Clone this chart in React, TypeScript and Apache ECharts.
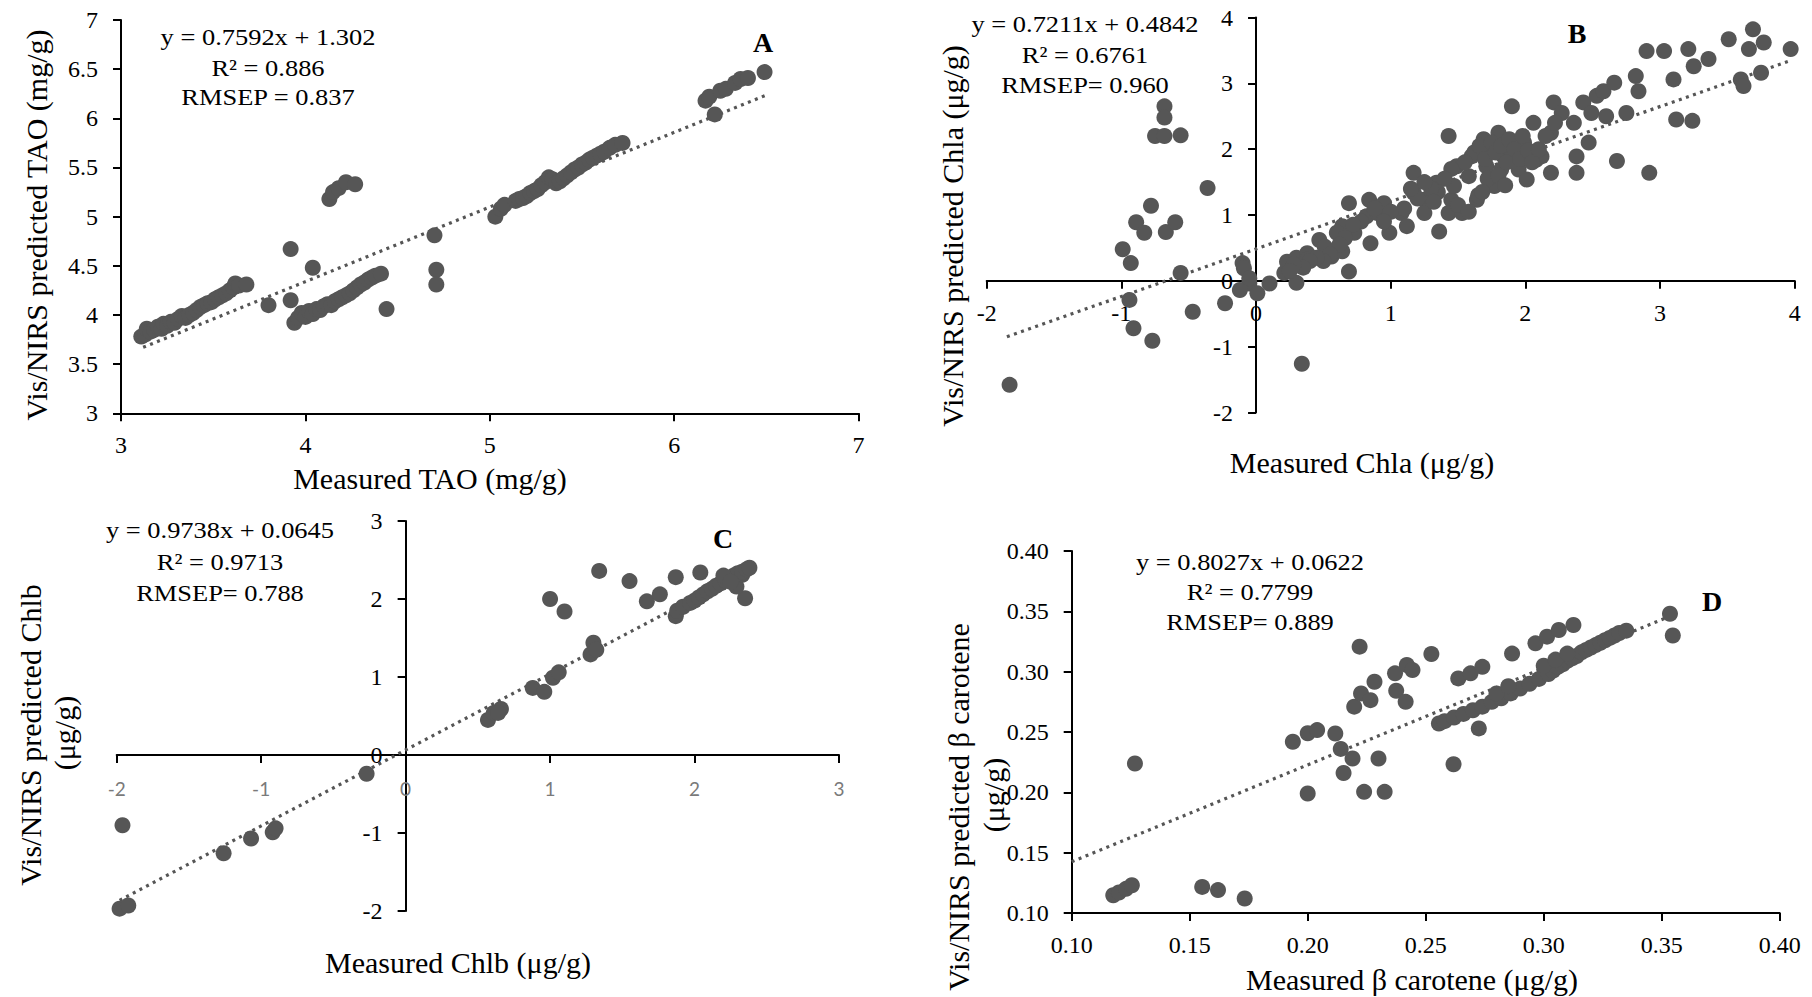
import React, { useEffect, useRef } from "react";
import * as echarts from "echarts";

// ---------- Data (measured, predicted) ----------
const taoPoints: number[][] = [
  [3.11, 3.78], [3.13, 3.8], [3.14, 3.86], [3.16, 3.83], [3.18, 3.85], [3.2, 3.88], [3.22, 3.86], [3.23, 3.91],
  [3.25, 3.89], [3.27, 3.93], [3.29, 3.92], [3.31, 3.96], [3.33, 3.99], [3.35, 3.97], [3.37, 4.0], [3.39, 4.02],
  [3.41, 4.05], [3.43, 4.08], [3.45, 4.1], [3.47, 4.12], [3.49, 4.13], [3.51, 4.16], [3.53, 4.18], [3.55, 4.2],
  [3.57, 4.22], [3.59, 4.25], [3.61, 4.28], [3.62, 4.32], [3.64, 4.3], [3.68, 4.31],
  [3.8, 4.1], [3.92, 4.67], [3.92, 4.15], [4.04, 4.48], [4.13, 5.18], [4.15, 5.25], [4.18, 5.29], [4.22, 5.35],
  [4.27, 5.33], [4.44, 4.06], [4.7, 4.81], [4.71, 4.46], [4.71, 4.31],
  [3.94, 3.92], [3.96, 3.97], [3.98, 4.02], [4.0, 3.98], [4.02, 4.04], [4.04, 4.01], [4.06, 4.06], [4.08, 4.05],
  [4.1, 4.09], [4.12, 4.11], [4.14, 4.1], [4.16, 4.14], [4.18, 4.16], [4.2, 4.18], [4.22, 4.2], [4.24, 4.22],
  [4.26, 4.25], [4.28, 4.28], [4.3, 4.31], [4.32, 4.33], [4.34, 4.36], [4.36, 4.38], [4.38, 4.4], [4.41, 4.42],
  [5.03, 5.0], [5.06, 5.08], [5.08, 5.12], [5.14, 5.16], [5.16, 5.18], [5.18, 5.19], [5.2, 5.21], [5.22, 5.24],
  [5.24, 5.26], [5.26, 5.28], [5.28, 5.32], [5.3, 5.35], [5.32, 5.4], [5.34, 5.38], [5.36, 5.34], [5.38, 5.36],
  [5.4, 5.39], [5.42, 5.42], [5.44, 5.45], [5.46, 5.48], [5.48, 5.5], [5.5, 5.53], [5.52, 5.55], [5.54, 5.58],
  [5.56, 5.6], [5.58, 5.62], [5.6, 5.64], [5.62, 5.66], [5.65, 5.7], [5.68, 5.73], [5.72, 5.75],
  [6.17, 6.18], [6.19, 6.22], [6.22, 6.04], [6.25, 6.28], [6.28, 6.3], [6.33, 6.36], [6.36, 6.4], [6.4, 6.41], [6.49, 6.47],
];

const chlaPoints: number[][] = [
  [-0.68, 2.65], [-0.68, 2.48], [-0.75, 2.2], [-0.68, 2.2], [-0.56, 2.21], [-0.36, 1.41], [-0.78, 1.14], [-0.89, 0.89],
  [-0.83, 0.73], [-0.67, 0.74], [-0.6, 0.89], [-0.99, 0.48], [-0.93, 0.27], [-0.56, 0.12], [-0.94, -0.29], [-0.91, -0.72],
  [-0.77, -0.91], [-0.47, -0.47], [-0.23, -0.34], [-1.83, -1.58], [0.34, -1.26],
  [-0.1, 0.27], [-0.09, 0.19], [-0.05, -0.04], [-0.12, -0.14], [0.01, -0.19], [-0.05, 0.04], [0.1, -0.04], [0.21, 0.12],
  [0.3, -0.03], [0.23, 0.29], [0.3, 0.35], [0.38, 0.42], [0.47, 0.62], [0.56, 0.37], [0.64, 0.45], [0.69, 0.14],
  [0.69, 1.18], [0.64, 0.83], [0.6, 0.73], [0.51, 0.52], [0.38, 0.32], [0.73, 0.73], [0.82, 0.98], [0.84, 1.23],
  [0.85, 0.57], [0.9, 1.03], [0.99, 0.73], [0.95, 1.18], [1.08, 1.03], [1.12, 0.83], [1.17, 1.34], [1.17, 1.64],
  [1.25, 1.23], [1.25, 1.03], [1.34, 1.49], [1.36, 0.75], [1.43, 2.2], [1.45, 1.23], [1.43, 1.03], [1.49, 1.74],
  [1.47, 1.44], [1.53, 1.03], [1.58, 1.59], [1.6, 1.89], [1.64, 1.23], [1.69, 2.15], [1.71, 1.74], [1.73, 2.0],
  [1.77, 1.44], [1.8, 2.25], [1.82, 1.69], [1.84, 1.89], [1.86, 2.1], [1.9, 1.94], [1.9, 2.65], [1.95, 1.69],
  [1.99, 2.1], [2.01, 1.54], [2.06, 2.4], [2.08, 1.84], [2.12, 1.89], [2.19, 2.25], [2.21, 2.71], [2.19, 1.64],
  [2.27, 2.55], [2.36, 2.4], [2.38, 1.89], [2.38, 1.64], [2.43, 2.71], [2.47, 2.1], [2.49, 2.55], [2.53, 2.81],
  [2.58, 2.88], [2.6, 2.5], [2.66, 3.01], [2.68, 1.82], [2.75, 2.55], [2.82, 3.11], [2.84, 2.88], [2.9, 3.49],
  [2.92, 1.64], [3.03, 3.49], [3.1, 3.06], [3.12, 2.45], [3.21, 3.52], [3.25, 3.26], [3.24, 2.43], [3.36, 3.37],
  [3.51, 3.67], [3.6, 3.06], [3.62, 2.96], [3.66, 3.52], [3.69, 3.82], [3.75, 3.16], [3.77, 3.62], [3.97, 3.52],
  [1.62, 1.95], [1.66, 2.05], [1.7, 1.85], [1.75, 2.1], [1.78, 1.95], [1.82, 2.05], [1.86, 1.8], [1.88, 2.15],
  [1.92, 2.0], [1.96, 1.85], [1.98, 2.2], [2.02, 1.98], [1.72, 1.55], [1.8, 1.6], [1.55, 1.8], [1.45, 1.7],
  [1.4, 1.55], [1.35, 1.35], [1.3, 1.4], [1.2, 1.25], [1.1, 1.1], [1.0, 1.05], [0.95, 0.9], [0.88, 1.1],
  [0.78, 0.9], [0.72, 0.85], [0.66, 0.65], [0.62, 0.55], [0.55, 0.4], [0.5, 0.3], [0.45, 0.35], [0.4, 0.3],
  [0.35, 0.2], [0.28, 0.25], [0.25, 0.15], [1.5, 1.15], [1.58, 1.05], [1.65, 1.3], [1.68, 1.35], [1.85, 1.45],
  [2.05, 1.8], [2.1, 2.0], [2.15, 2.2], [2.22, 2.4], [1.25, 1.5], [1.15, 1.4], [1.32, 1.2],
];

const chlbPoints: number[][] = [
  [-1.98, -1.97], [-1.92, -1.93], [-1.96, -0.9], [-1.26, -1.26], [-1.07, -1.07], [-0.92, -0.99], [-0.9, -0.94],
  [-0.27, -0.24], [0.57, 0.45], [0.61, 0.54], [0.66, 0.59], [0.64, 0.54], [0.88, 0.86], [0.96, 0.81], [1.02, 0.99],
  [1.06, 1.06], [1.0, 2.0], [1.1, 1.84], [1.28, 1.29], [1.3, 1.44], [1.32, 1.35], [1.34, 2.36], [1.55, 2.23],
  [1.67, 1.97], [1.76, 2.06], [1.87, 2.28], [1.87, 1.78], [2.04, 2.34], [2.35, 2.01], [2.29, 2.16], [2.33, 2.31],
  [1.88, 1.85], [1.92, 1.9], [1.97, 1.95], [2.0, 1.98], [2.03, 2.02], [2.06, 2.06], [2.09, 2.1], [2.12, 2.13],
  [2.15, 2.17], [2.18, 2.2], [2.21, 2.24], [2.24, 2.27], [2.27, 2.3], [2.3, 2.33], [2.33, 2.35], [2.36, 2.38],
  [2.38, 2.4], [2.2, 2.3], [2.25, 2.22],
];

const carotenePoints: number[][] = [
  [0.1176, 0.1147], [0.12, 0.117], [0.123, 0.12], [0.1255, 0.123], [0.1268, 0.2239], [0.1553, 0.1216], [0.162, 0.119],
  [0.1733, 0.112], [0.1937, 0.2419], [0.2, 0.249], [0.204, 0.2516], [0.2, 0.199], [0.2117, 0.2488], [0.214, 0.236],
  [0.2152, 0.216], [0.219, 0.228], [0.2197, 0.271], [0.222, 0.3207], [0.2226, 0.282], [0.2239, 0.2004], [0.2266, 0.2764],
  [0.2283, 0.2916], [0.23, 0.228], [0.2326, 0.2004], [0.237, 0.2986], [0.2375, 0.2842], [0.2415, 0.275], [0.242, 0.3055],
  [0.2444, 0.3013], [0.2524, 0.3146], [0.2618, 0.2233], [0.2556, 0.257], [0.2638, 0.2944], [0.269, 0.2986], [0.274, 0.304],
  [0.2725, 0.253], [0.2866, 0.315], [0.2965, 0.3235], [0.3014, 0.329], [0.3064, 0.3345], [0.3126, 0.3387], [0.3535, 0.348],
  [0.3547, 0.33],
  [0.258, 0.259], [0.262, 0.262], [0.266, 0.265], [0.27, 0.268], [0.274, 0.271], [0.278, 0.275], [0.282, 0.278],
  [0.286, 0.282], [0.29, 0.286], [0.294, 0.29], [0.298, 0.294], [0.302, 0.298], [0.304, 0.301], [0.306, 0.304],
  [0.308, 0.306], [0.31, 0.309], [0.312, 0.311], [0.314, 0.313], [0.316, 0.316], [0.318, 0.318], [0.32, 0.32],
  [0.322, 0.322], [0.324, 0.324], [0.326, 0.326], [0.328, 0.328], [0.33, 0.33], [0.332, 0.332], [0.335, 0.334],
  [0.3, 0.305], [0.305, 0.31], [0.31, 0.315], [0.28, 0.282], [0.285, 0.288],
];

// Fitted regression lines as printed on each panel: [slope, intercept, xFrom, xTo]
const taoFit = [0.7592, 1.302, 3.12, 6.5];
const chlaFit = [0.7211, 0.4842, -1.85, 3.97];
const chlbFit = [0.9738, 0.0645, -1.98, 2.38];
const caroteneFit = [0.8027, 0.0622, 0.1, 0.355];

// Equation / statistics labels
const taoStats = ["y = 0.7592x + 1.302", "R² = 0.886", "RMSEP = 0.837"];
const chlaStats = ["y = 0.7211x + 0.4842", "R² = 0.6761", "RMSEP= 0.960"];
const chlbStats = ["y = 0.9738x + 0.0645", "R² = 0.9713", "RMSEP= 0.788"];
const caroteneStats = ["y = 0.8027x + 0.0622", "R² = 0.7799", "RMSEP= 0.889"];

// Axis ranges
const taoRange = [3, 7];
const taoYInterval = 0.5;
const chlaRange = [-2, 4];
const chlbRange = [-2, 3];
const caroteneRange = [0.1, 0.4];
const caroteneInterval = 0.05;

const SERIF = '"Liberation Serif", "Times New Roman", serif';
const MARK = "#565656";

function fitLine(f: number[]) {
  const [m, b, x0, x1] = f;
  return [[x0, m * x0 + b], [x1, m * x1 + b]];
}

function valAxis(gridIndex: number, min: number, max: number, interval: number, isX: boolean, extra: any = {}) {
  return {
    type: "value",
    gridIndex,
    min,
    max,
    interval,
    offset: extra.offset || 0,
    splitLine: { show: false },
    axisLine: { show: true, onZero: false, lineStyle: { color: "#000", width: 2 } },
    axisTick: { show: true, length: 8, lineStyle: { color: "#000", width: 2 } },
    axisLabel: {
      fontFamily: SERIF,
      fontSize: 24,
      color: "#000",
      margin: isX ? 20 : 23,
      ...(extra.axisLabel || {}),
    },
  };
}

function txt(x: number, y: number, text: string, font: string, opts: any = {}) {
  return {
    type: "text",
    x,
    y,
    rotation: opts.rotation || 0,
    scaleX: opts.scaleX || 1,
    silent: true,
    style: {
      text,
      font,
      fill: opts.fill || "#000",
      textAlign: "center",
      textVerticalAlign: "middle",
      align: "center",
      verticalAlign: "middle",
    },
  };
}

function statTexts(stats: string[], cx: number, ys: number[]) {
  return stats.map((s, i) => txt(cx, ys[i], s, `23px ${SERIF}`, { scaleX: 1.15 }));
}

export default function App() {
  const ref = useRef<HTMLDivElement>(null);
  useEffect(() => {
    if (!ref.current) return;
    const chart = echarts.init(ref.current, undefined, { renderer: "svg" });
    const fmt2 = (v: number) => v.toFixed(2);
    const grids = [
      { left: 121, top: 20, width: 737.6, height: 393.3 },
      { left: 986.7, top: 17.5, width: 808, height: 395 },
      { left: 116.7, top: 521, width: 722.3, height: 390 },
      { left: 1071.7, top: 551, width: 708, height: 362 },
    ];
    // zero-crossing offsets for panels B and C (axis drawn through the origin)
    const bXOff = -(grids[1].height * (0 - chlaRange[0])) / (chlaRange[1] - chlaRange[0]);
    const bYOff = -(grids[1].width * (0 - chlaRange[0])) / (chlaRange[1] - chlaRange[0]);
    const cXOff = -(grids[2].height * (0 - chlbRange[0])) / (chlbRange[1] - chlbRange[0]);
    const cYOff = -(grids[2].width * (0 - chlbRange[0])) / (chlbRange[1] - chlbRange[0]);
    const xAxes = [
      valAxis(0, taoRange[0], taoRange[1], 1, true),
      valAxis(1, chlaRange[0], chlaRange[1], 1, true, { offset: bXOff }),
      valAxis(2, chlbRange[0], chlbRange[1], 1, true, {
        offset: cXOff,
        axisLabel: { fontFamily: '"Lato", "Open Sans", sans-serif', fontSize: 19, color: "#7a7a7a", margin: 24 },
      }),
      valAxis(3, caroteneRange[0], caroteneRange[1], caroteneInterval, true, { axisLabel: { formatter: fmt2 } }),
    ];
    const yAxes = [
      valAxis(0, taoRange[0], taoRange[1], taoYInterval, false),
      valAxis(1, chlaRange[0], chlaRange[1], 1, false, { offset: bYOff }),
      valAxis(2, chlbRange[0], chlbRange[1], 1, false, { offset: cYOff }),
      valAxis(3, caroteneRange[0], caroteneRange[1], caroteneInterval, false, { axisLabel: { formatter: fmt2 } }),
    ];
    const sets = [
      [taoPoints, taoFit],
      [chlaPoints, chlaFit],
      [chlbPoints, chlbFit],
      [carotenePoints, caroteneFit],
    ];
    const series: any[] = [];
    sets.forEach(([pts, fit], i) => {
      series.push({
        type: "line",
        xAxisIndex: i,
        yAxisIndex: i,
        data: fitLine(fit as number[]),
        showSymbol: false,
        symbol: "none",
        z: 1,
        lineStyle: { color: "#555", width: 3.2, type: [3, 4.5] },
      });
      series.push({
        type: "scatter",
        xAxisIndex: i,
        yAxisIndex: i,
        data: pts,
        symbol: "circle",
        symbolSize: 16,
        z: 3,
        itemStyle: { color: MARK, opacity: 1 },
      });
    });

    const T30 = `30px ${SERIF}`;
    const B28 = `bold 28px ${SERIF}`;
    const graphic: any[] = [
      ...statTexts(taoStats, 268, [37, 68, 97]),
      ...statTexts(chlaStats, 1085, [24, 55, 85]),
      ...statTexts(chlbStats, 220, [530, 562, 593]),
      ...statTexts(caroteneStats, 1250, [562, 592, 622]),
      txt(763, 42, "A", B28),
      txt(1577, 33, "B", B28),
      txt(723, 538, "C", B28),
      txt(1712, 601, "D", B28),
      txt(430, 478, "Measured TAO (mg/g)", T30),
      txt(36, 225, "Vis/NIRS predicted TAO (mg/g)", T30, { rotation: Math.PI / 2 }),
      txt(1362, 462, "Measured Chla (μg/g)", T30),
      txt(952, 236, "Vis/NIRS predicted Chla (μg/g)", T30, { rotation: Math.PI / 2 }),
      txt(458, 962, "Measured Chlb (μg/g)", T30),
      txt(30, 735, "Vis/NIRS predicted Chlb", T30, { rotation: Math.PI / 2 }),
      txt(64, 733, "(μg/g)", T30, { rotation: Math.PI / 2 }),
      txt(1412, 979, "Measured β carotene (μg/g)", T30),
      txt(958, 807, "Vis/NIRS predicted β carotene", T30, { rotation: Math.PI / 2 }),
      txt(993, 795, "(μg/g)", T30, { rotation: Math.PI / 2 }),
    ];

    chart.setOption({
      animation: false,
      backgroundColor: "#fff",
      grid: grids,
      xAxis: xAxes,
      yAxis: yAxes,
      series,
      graphic,
    });
    return () => chart.dispose();
  }, []);
  return <div ref={ref} style={{ position: "absolute", left: 0, top: 0, width: 1812, height: 997 }} />;
}
